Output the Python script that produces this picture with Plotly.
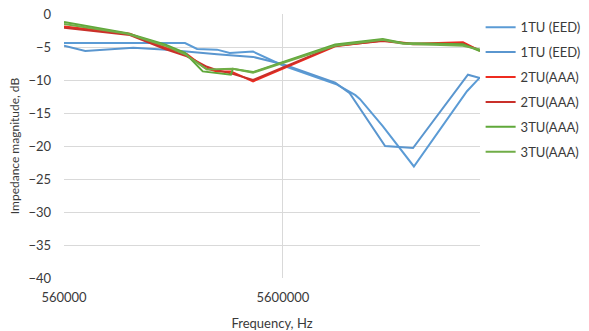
import plotly.graph_objects as go

# Frequencies in Hz, magnitudes in dB
eed1_f = [560000, 2000000, 2270000, 2800000, 3200000, 4090000, 5600000, 9900000, 12000000, 12600000, 16000000, 22200000, 38800000, 44500000]
eed1_db = [-4.4, -4.4, -5.3, -5.4, -5.9, -5.7, -7.8, -10.7, -12.3, -12.9, -17.0, -23.1, -11.7, -9.6]

eed2_f = [560000, 700000, 1160000, 1650000, 2800000, 4090000, 5600000, 9700000, 11300000, 16400000, 22000000, 39200000, 44500000]
eed2_db = [-4.8, -5.6, -5.1, -5.4, -6.1, -6.5, -7.6, -10.4, -12.0, -20.0, -20.3, -9.2, -9.7]

aaa2a_f = [560000, 1120000, 1620000, 2040000, 2470000, 2800000, 3240000, 4090000, 9700000, 16000000, 22000000, 37200000, 44500000]
aaa2a_db = [-1.9, -3.0, -5.1, -6.1, -8.2, -8.7, -8.7, -10.2, -4.9, -4.0, -4.5, -4.3, -5.6]

aaa2b_f = [560000, 1120000, 1620000, 2040000, 2520000, 2800000, 3240000, 4090000, 9700000, 16000000, 22000000, 37200000, 44500000]
aaa2b_db = [-2.1, -3.2, -5.3, -6.4, -8.0, -8.5, -9.0, -10.0, -4.8, -4.1, -4.6, -4.5, -5.5]

aaa3a_f = [560000, 1090000, 1620000, 2000000, 2410000, 3240000, 3310000, 4090000, 9700000, 16000000, 19800000, 37200000, 44500000]
aaa3a_db = [-1.2, -2.9, -4.6, -5.9, -8.7, -9.2, -8.3, -8.8, -4.6, -3.8, -4.4, -4.6, -5.6]

aaa3b_f = [560000, 1090000, 1620000, 2000000, 2520000, 3310000, 4090000, 9700000, 16000000, 19800000, 37200000, 44500000]
aaa3b_db = [-1.5, -3.0, -4.8, -6.1, -8.4, -8.3, -8.9, -4.8, -3.9, -4.5, -4.8, -5.4]

series = [
    ("1TU (EED)", eed1_f, eed1_db, "#5b9bd5"),
    ("1TU (EED)", eed2_f, eed2_db, "#5a96cf"),
    ("2TU(AAA)", aaa2a_f, aaa2a_db, "#ee2b1f"),
    ("2TU(AAA)", aaa2b_f, aaa2b_db, "#c9302a"),
    ("3TU(AAA)", aaa3a_f, aaa3a_db, "#5fa83a"),
    ("3TU(AAA)", aaa3b_f, aaa3b_db, "#70ad47"),
]

x_ticks = [560000, 5600000]
x_tick_text = ["560000", "5600000"]
y_ticks = [0, -5, -10, -15, -20, -25, -30, -35, -40]

fig = go.Figure()
for i, (name, f, db, col) in enumerate(series):
    fig.add_trace(go.Scatter(x=f, y=db, mode="lines", name=name,
                             line=dict(color=col, width=2),
                             legendgroup=str(i)))

font_fam = "Lato, 'Open Sans', sans-serif"
txt = "#3a3a3a"
fig.update_layout(
    width=589, height=331,
    margin=dict(l=64, r=109, t=14, b=53, autoexpand=False),
    paper_bgcolor="white", plot_bgcolor="white",
    font=dict(family=font_fam, size=13, color=txt),
    showlegend=True,
    legend=dict(xref="container", yref="container",
                x=0.816, xanchor="left", y=0.963, yanchor="top",
                font=dict(size=13, color=txt),
                tracegroupgap=5, itemwidth=30,
                bgcolor="rgba(0,0,0,0)"),
)
fig.update_xaxes(type="log", range=[5.748188, 7.648360], automargin=False,
                 tickvals=x_ticks, ticktext=x_tick_text,
                 showgrid=True, gridcolor="#d9d9d9", gridwidth=1,
                 zeroline=False, showline=False,
                 ticks="", ticklabelstandoff=10,
                 tickfont=dict(size=13, color=txt),
                 title=dict(text="Frequency, Hz", font=dict(size=13, color=txt), standoff=14))
fig.update_yaxes(range=[-40, 0], tickvals=y_ticks, automargin=False,
                 showgrid=True, gridcolor="#d9d9d9", gridwidth=1,
                 zeroline=False, showline=False, ticks="", ticklabelstandoff=12,
                 tickfont=dict(size=13, color=txt),
                 title=dict(text="Impedance magnitude, dB", font=dict(size=12, color=txt), standoff=6))

fig.write_html("out.html")
